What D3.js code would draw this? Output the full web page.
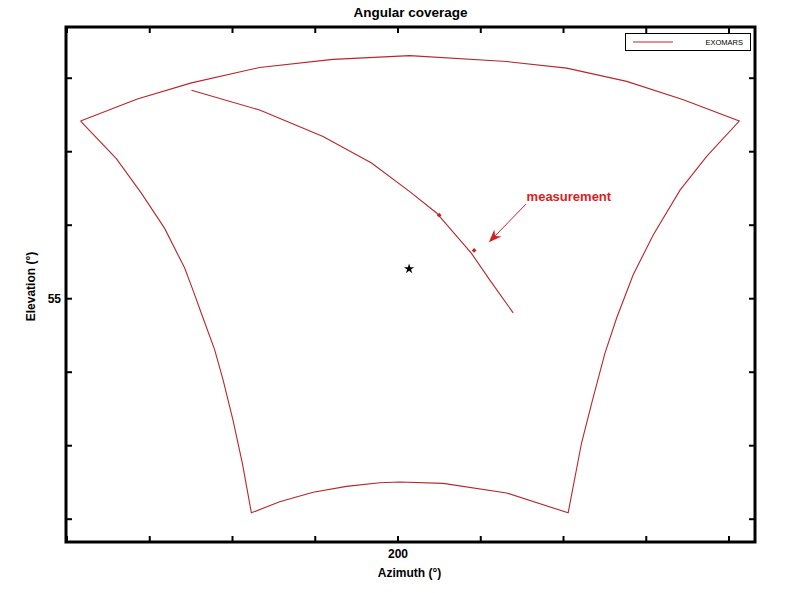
<!DOCTYPE html>
<html>
<head>
<meta charset="utf-8">
<script src="https://cdn.jsdelivr.net/npm/d3@7/dist/d3.min.js"></script>
<style>
html,body{margin:0;padding:0;background:#fff;}
svg{display:block;font-family:"Liberation Sans",Arial,sans-serif;}
</style>
</head>
<body>
<svg id="chart" width="787" height="593"></svg>
<script>
// ---- data ----
const chartTitle = "Angular coverage";
const xLabel = "Azimuth (°)";
const yLabel = "Elevation (°)";
const seriesName = "EXOMARS";
const xTicks = [180, 185, 190, 195, 200, 205, 210, 215, 220];
const xTickLabels = {200: "200"};
const yTicks = [52, 53, 54, 55, 56, 57, 58];
const yTickLabels = {55: "55"};

// outer coverage contour (azimuth, elevation)
const outerAz = [180.85,184.28,187.55,191.67,196.09,200.74,206.59,210.22,213.85,217.27,220.65,
                 218.68,217.07,215.45,214.24,213.24,212.53,211.73,211.12,210.31,
                 206.59,202.76,200.14,198.93,196.92,194.90,192.88,191.17,
                 190.63,190.06,189.46,188.95,188.25,187.64,187.14,185.93,184.52,183.01,180.85];
const outerEl = [57.41,57.71,57.93,58.14,58.25,58.30,58.22,58.13,57.95,57.70,57.41,
                 56.93,56.47,55.86,55.32,54.73,54.25,53.57,53.03,52.08,
                 52.35,52.48,52.50,52.49,52.44,52.36,52.23,52.08,
                 52.75,53.34,53.89,54.30,54.73,55.11,55.41,55.95,56.43,56.90,57.41];
// inner track
const innerAz = [187.55,191.67,195.50,198.43,200.74,202.36,204.47,205.60,206.99];
const innerEl = [57.83,57.56,57.20,56.84,56.45,56.16,55.61,55.24,54.80];
// measurements
const measAz = [202.52, 204.63];
const measEl = [56.13, 55.65];
// reference star
const starAz = [200.70];
const starEl = [55.40];
// annotation
const annText = "measurement";
const annTextPos = [207.80, 56.39];
const annArrowFrom = [207.76, 56.28];
const annArrowTo = [205.52, 55.76];

// ---- layout ----
const L = 66, R = 755, T = 27, B = 542;
const lineColor = "#b8262a";
const annColor = "#d81e1e";

const svg = d3.select("#chart");
const x = d3.scaleLinear().domain([180, 221.6]).range([66.5, 755]);
const y = d3.scaleLinear().domain([51.683, 58.69]).range([542, 27]);

svg.append("defs").append("clipPath").attr("id","clip")
  .append("rect").attr("x",L).attr("y",T).attr("width",R-L).attr("height",B-T);

const plot = svg.append("g").attr("clip-path","url(#clip)");
const line = d3.line().x(d=>x(d[0])).y(d=>y(d[1]));

const outer = outerAz.map((a,i)=>[a, outerEl[i]]);
const inner = innerAz.map((a,i)=>[a, innerEl[i]]);

plot.append("path").attr("d", line(outer)).attr("fill","none")
  .attr("stroke", lineColor).attr("stroke-width",1.1);
plot.append("path").attr("d", line(inner)).attr("fill","none")
  .attr("stroke", lineColor).attr("stroke-width",1.1);

plot.selectAll(".meas").data(measAz.map((a,i)=>[a,measEl[i]])).enter()
  .append("path").attr("class","meas")
  .attr("d", d3.symbol().type(d3.symbolSquare).size(11))
  .attr("transform", d=>`translate(${x(d[0])},${y(d[1])}) rotate(45)`)
  .attr("fill", "#cc2020");

plot.selectAll(".star").data(starAz.map((a,i)=>[a,starEl[i]])).enter()
  .append("path").attr("class","star")
  .attr("d", d3.symbol().type(d3.symbolStar).size(32))
  .attr("transform", d=>`translate(${x(d[0])},${y(d[1])})`)
  .attr("fill", "#000");

// annotation
svg.append("text").attr("x", x(annTextPos[0])).attr("y", y(annTextPos[1]))
  .attr("dy","0.35em").attr("fill", annColor).attr("font-weight","bold")
  .attr("font-size","13px").text(annText);
{
  const x0 = x(annArrowFrom[0]), y0 = y(annArrowFrom[1]);
  const x1 = x(annArrowTo[0]), y1 = y(annArrowTo[1]);
  const ang = Math.atan2(y1-y0, x1-x0);
  const len = 13, half = 5, notch = 9;
  const bx = x1 - len*Math.cos(ang), by = y1 - len*Math.sin(ang);
  const nx = x1 - notch*Math.cos(ang), ny = y1 - notch*Math.sin(ang);
  const px = -Math.sin(ang), py = Math.cos(ang);
  svg.append("line").attr("x1",x0).attr("y1",y0).attr("x2",nx).attr("y2",ny)
    .attr("stroke", annColor).attr("stroke-width",1);
  svg.append("path")
    .attr("d", `M${x1},${y1}L${bx+px*half},${by+py*half}L${nx},${ny}L${bx-px*half},${by-py*half}Z`)
    .attr("fill", annColor);
}

// axes
const tickLen = 6;
const axB = svg.append("g").attr("transform",`translate(0,${B})`)
  .call(d3.axisBottom(x).tickValues(xTicks).tickSizeInner(-tickLen).tickSizeOuter(0)
        .tickFormat(d=>xTickLabels[d]||""));
const axT = svg.append("g").attr("transform",`translate(0,${T})`)
  .call(d3.axisTop(x).tickValues(xTicks).tickSizeInner(-tickLen).tickSizeOuter(0).tickFormat(""));
const axL = svg.append("g").attr("transform",`translate(${L},0)`)
  .call(d3.axisLeft(y).tickValues(yTicks).tickSizeInner(-tickLen).tickSizeOuter(0)
        .tickFormat(d=>yTickLabels[d]||""));
const axR = svg.append("g").attr("transform",`translate(${R},0)`)
  .call(d3.axisRight(y).tickValues(yTicks).tickSizeInner(-tickLen).tickSizeOuter(0).tickFormat(""));
[axB,axT,axL,axR].forEach(g=>{
  g.select(".domain").remove();
  g.selectAll(".tick line").attr("stroke","#000").attr("stroke-width",2);
  g.selectAll(".tick text").attr("fill","#000").attr("font-size","12px")
    .attr("font-weight","bold").attr("font-family","'Liberation Sans',Arial,sans-serif");
});
axB.selectAll(".tick text").attr("dy","0").attr("y",16);
axL.selectAll(".tick text").attr("x",-5);

// frame
svg.append("rect").attr("x",L).attr("y",T).attr("width",R-L).attr("height",B-T)
  .attr("fill","none").attr("stroke","#000").attr("stroke-width",3);

// title and labels
svg.append("text").attr("x",(L+R)/2).attr("y",17).attr("text-anchor","middle")
  .attr("font-weight","bold").attr("font-size","13.5px").attr("fill","#000").text(chartTitle);
svg.append("text").attr("x",(L+R)/2 - 1).attr("y",577).attr("text-anchor","middle")
  .attr("font-weight","bold").attr("font-size","12px").attr("fill","#000").text(xLabel);
svg.append("text").attr("transform",`translate(35,${(T+B)/2+2}) rotate(-90)`)
  .attr("text-anchor","middle").attr("font-weight","bold").attr("font-size","12px")
  .attr("fill","#000").text(yLabel);

// legend
const lg = svg.append("g");
lg.append("rect").attr("x",625.5).attr("y",33.5).attr("width",125).attr("height",17)
  .attr("fill","#fff").attr("stroke","#000").attr("stroke-width",1);
lg.append("line").attr("x1",633).attr("x2",673).attr("y1",42).attr("y2",42)
  .attr("stroke","#c0282c").attr("stroke-width",1.2);
lg.append("text").attr("x",705.5).attr("y",42).attr("dy","0.35em")
  .attr("font-size","7.5px").attr("fill","#000").text(seriesName);
</script>
</body>
</html>
